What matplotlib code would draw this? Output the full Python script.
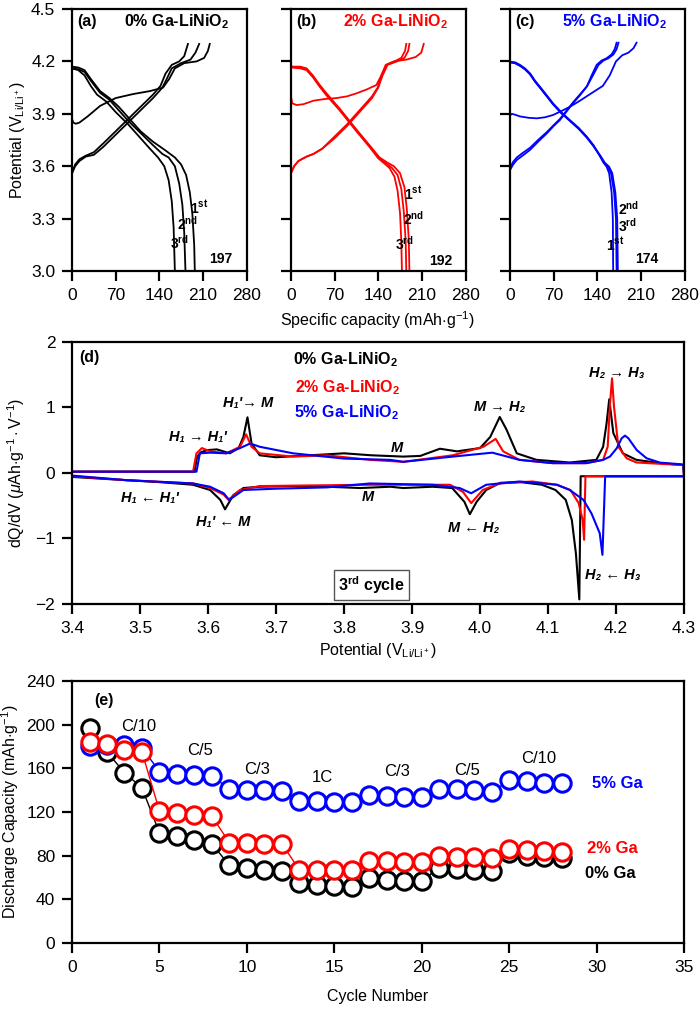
import matplotlib
matplotlib.use('Agg')
import matplotlib.pyplot as plt

plt.rcParams['font.family'] = ['Liberation Sans', 'DejaVu Sans']
plt.rcParams['mathtext.fontset'] = 'custom'
plt.rcParams['mathtext.rm'] = 'Liberation Sans'
plt.rcParams['mathtext.it'] = 'Liberation Sans:italic'
plt.rcParams['mathtext.bf'] = 'Liberation Sans:bold'

# ---- (a) 0% Ga: charge / discharge curves (capacity, potential)
a_chg1_cap = [0, 2, 6, 12, 25, 45, 70, 98, 125, 146, 156, 165, 180, 200, 212, 218, 221]
a_chg1_v = [3.87, 3.85, 3.843, 3.85, 3.885, 3.945, 3.99, 4.013, 4.03, 4.05, 4.10, 4.16, 4.19, 4.20, 4.22, 4.26, 4.30]
a_chg2_cap = [0, 5, 12, 22, 35, 50, 70, 90, 110, 130, 145, 152, 160, 175, 190, 198, 204]
a_chg2_v = [3.56, 3.60, 3.63, 3.655, 3.665, 3.71, 3.78, 3.85, 3.92, 3.99, 4.05, 4.10, 4.16, 4.19, 4.21, 4.25, 4.30]
a_chg3_cap = [0, 5, 12, 22, 35, 50, 70, 90, 110, 130, 142, 150, 160, 172, 180, 186]
a_chg3_v = [3.56, 3.61, 3.64, 3.66, 3.68, 3.73, 3.80, 3.87, 3.94, 4.01, 4.06, 4.13, 4.18, 4.20, 4.23, 4.30]
a_dis1_cap = [0, 10, 20, 30, 45, 60, 75, 90, 110, 130, 150, 165, 175, 183, 189, 193, 196, 197]
a_dis1_v = [4.17, 4.165, 4.15, 4.10, 4.03, 3.99, 3.94, 3.88, 3.80, 3.74, 3.69, 3.65, 3.61, 3.55, 3.45, 3.33, 3.15, 3.0]
a_dis2_cap = [0, 10, 20, 30, 45, 60, 75, 90, 110, 130, 145, 155, 165, 172, 177, 180, 182]
a_dis2_v = [4.16, 4.155, 4.14, 4.09, 4.02, 3.98, 3.92, 3.86, 3.79, 3.72, 3.67, 3.65, 3.60, 3.50, 3.38, 3.22, 3.0]
a_dis3_cap = [0, 10, 20, 30, 40, 55, 70, 90, 110, 125, 138, 148, 155, 160, 163, 165]
a_dis3_v = [4.16, 4.15, 4.12, 4.06, 4.01, 3.97, 3.91, 3.84, 3.76, 3.70, 3.65, 3.60, 3.52, 3.40, 3.25, 3.0]

# ---- (b) 2% Ga
b_chg1_cap = [0, 2, 9, 20, 36, 55, 73, 90, 105, 122, 137, 145, 153, 165, 185, 200, 209, 213]
b_chg1_v = [4.00, 3.96, 3.95, 3.955, 3.975, 3.985, 3.99, 4.00, 4.017, 4.04, 4.065, 4.12, 4.18, 4.20, 4.21, 4.225, 4.25, 4.30]
b_chg2_cap = [0, 5, 12, 25, 36, 50, 70, 90, 110, 130, 140, 147, 155, 170, 182, 188, 190]
b_chg2_v = [3.56, 3.60, 3.63, 3.655, 3.67, 3.70, 3.76, 3.83, 3.91, 3.99, 4.05, 4.12, 4.18, 4.20, 4.22, 4.26, 4.30]
b_chg3_cap = [0, 5, 12, 25, 36, 50, 70, 90, 110, 130, 139, 145, 152, 166, 177, 183, 185]
b_chg3_v = [3.56, 3.60, 3.63, 3.655, 3.67, 3.70, 3.77, 3.84, 3.92, 4.00, 4.05, 4.12, 4.18, 4.20, 4.22, 4.26, 4.30]
b_dis1_cap = [0, 15, 25, 35, 45, 57, 78, 105, 126, 142, 155, 165, 175, 182, 186, 189, 190]
b_dis1_v = [4.17, 4.17, 4.16, 4.12, 4.07, 4.017, 3.93, 3.81, 3.72, 3.65, 3.62, 3.60, 3.56, 3.48, 3.35, 3.18, 3.0]
b_dis2_cap = [0, 15, 25, 35, 45, 57, 78, 105, 126, 142, 153, 162, 171, 177, 181, 184, 185]
b_dis2_v = [4.17, 4.165, 4.155, 4.115, 4.065, 4.01, 3.925, 3.805, 3.715, 3.645, 3.615, 3.59, 3.55, 3.47, 3.34, 3.17, 3.0]
b_dis3_cap = [0, 15, 25, 35, 45, 57, 78, 105, 126, 140, 150, 158, 166, 171, 175, 177, 178]
b_dis3_v = [4.165, 4.16, 4.15, 4.11, 4.06, 4.005, 3.92, 3.80, 3.71, 3.645, 3.615, 3.59, 3.54, 3.46, 3.33, 3.17, 3.0]

# ---- (c) 5% Ga
c_chg1_cap = [0, 3, 8, 16, 30, 43, 56, 69, 82, 96, 110, 123, 136, 149, 160, 170, 180, 190, 198, 203]
c_chg1_v = [3.89, 3.90, 3.895, 3.885, 3.877, 3.874, 3.88, 3.893, 3.915, 3.94, 3.97, 4.00, 4.03, 4.06, 4.12, 4.20, 4.235, 4.25, 4.275, 4.307]
c_chg2_cap = [0, 5, 11, 20, 32, 45, 59, 70, 80, 90, 101, 112, 123, 131, 139, 147, 155, 163, 168, 171]
c_chg2_v = [3.578, 3.61, 3.636, 3.66, 3.693, 3.74, 3.788, 3.83, 3.864, 3.91, 3.96, 4.005, 4.055, 4.12, 4.18, 4.205, 4.218, 4.24, 4.27, 4.307]
c_chg3_cap = [0, 5, 11, 20, 32, 45, 59, 70, 80, 90, 101, 112, 124, 133, 142, 150, 158, 166, 171, 174]
c_chg3_v = [3.59, 3.625, 3.65, 3.675, 3.705, 3.75, 3.795, 3.835, 3.87, 3.915, 3.965, 4.01, 4.06, 4.12, 4.18, 4.205, 4.218, 4.24, 4.27, 4.307]
c_dis1_cap = [0, 8, 16, 24, 32, 40, 48, 58, 69, 82, 96, 110, 123, 134, 144, 150, 155, 159, 163, 165, 165.5]
c_dis1_v = [4.198, 4.195, 4.18, 4.16, 4.132, 4.09, 4.055, 4.01, 3.96, 3.91, 3.864, 3.82, 3.77, 3.72, 3.66, 3.62, 3.597, 3.56, 3.45, 3.30, 3.0]
c_dis2_cap = [0, 8, 16, 24, 32, 40, 48, 58, 69, 82, 96, 110, 123, 134, 144, 151, 157, 162, 167, 170, 171]
c_dis2_v = [4.195, 4.19, 4.175, 4.155, 4.127, 4.085, 4.05, 4.005, 3.955, 3.905, 3.86, 3.815, 3.765, 3.715, 3.66, 3.62, 3.597, 3.56, 3.45, 3.30, 3.0]
c_dis3_cap = [0, 8, 16, 24, 32, 40, 48, 58, 69, 82, 96, 110, 123, 134, 145, 152, 159, 164, 169, 172, 173]
c_dis3_v = [4.195, 4.19, 4.175, 4.155, 4.127, 4.085, 4.05, 4.005, 3.955, 3.905, 3.86, 3.815, 3.765, 3.715, 3.66, 3.62, 3.597, 3.56, 3.45, 3.30, 3.0]

# ---- (d) dQ/dV, 3rd cycle (charge left->right, then discharge right->left)
d_black_v = [3.40, 3.50, 3.580, 3.584, 3.590, 3.600, 3.613, 3.632, 3.645, 3.652, 3.658, 3.664, 3.676, 3.70, 3.75,
             3.80, 3.84, 3.887, 3.912, 3.941, 3.966, 4.00, 4.015, 4.029, 4.039, 4.054, 4.083, 4.132, 4.171, 4.181,
             4.186, 4.190, 4.196, 4.21, 4.23, 4.265, 4.299,
             4.30, 4.148, 4.146, 4.141, 4.135, 4.126, 4.111, 4.091, 4.060, 4.030, 4.009, 3.995, 3.985, 3.977, 3.959,
             3.93, 3.887, 3.868, 3.824, 3.775, 3.725, 3.676, 3.652, 3.637, 3.625, 3.618, 3.603, 3.578, 3.529, 3.48,
             3.431, 3.40]
d_black_y = [0.02, 0.02, 0.02, 0.25, 0.32, 0.35, 0.36, 0.30, 0.38, 0.55, 0.85, 0.45, 0.27, 0.24, 0.27,
             0.30, 0.27, 0.25, 0.26, 0.37, 0.33, 0.38, 0.55, 0.855, 0.66, 0.30, 0.20, 0.16, 0.20, 0.40,
             0.75, 1.125, 0.61, 0.30, 0.20, 0.15, 0.12,
             -0.05, -0.05, -1.93, -1.23, -0.72, -0.41, -0.26, -0.18, -0.14, -0.15, -0.26, -0.44, -0.63, -0.44, -0.23,
             -0.21, -0.23, -0.21, -0.23, -0.21, -0.20, -0.21, -0.23, -0.34, -0.555, -0.41, -0.26, -0.18, -0.14, -0.11,
             -0.08, -0.06]
d_red_v = [3.40, 3.50, 3.578, 3.583, 3.591, 3.603, 3.627, 3.647, 3.656, 3.664, 3.676, 3.725, 3.774, 3.838, 3.887,
           3.96, 4.005, 4.023, 4.034, 4.058, 4.107, 4.156, 4.181, 4.1877, 4.1912, 4.1941, 4.197, 4.2034, 4.2157,
           4.23, 4.265, 4.299,
           4.30, 4.155, 4.153, 4.151, 4.145, 4.133, 4.113, 4.077, 4.028, 4.004, 3.987, 3.975, 3.956, 3.90, 3.838,
           3.75, 3.676, 3.647, 3.630, 3.623, 3.603, 3.578, 3.48, 3.40]
d_red_y = [0.02, 0.02, 0.02, 0.30, 0.38, 0.33, 0.30, 0.40, 0.59, 0.40, 0.30, 0.25, 0.27, 0.20, 0.17,
           0.27, 0.40, 0.52, 0.33, 0.20, 0.15, 0.15, 0.20, 0.40, 1.064, 1.445, 1.013, 0.40, 0.224,
           0.16, 0.14, 0.12,
           -0.05, -0.05, -1.02, -0.72, -0.46, -0.26, -0.18, -0.13, -0.16, -0.26, -0.46, -0.29, -0.18, -0.18, -0.18,
           -0.19, -0.20, -0.26, -0.41, -0.33, -0.23, -0.16, -0.11, -0.05]
d_blue_v = [3.40, 3.50, 3.583, 3.588, 3.603, 3.627, 3.647, 3.662, 3.676, 3.725, 3.80, 3.868, 3.887, 3.96, 4.018,
            4.058, 4.107, 4.156, 4.181, 4.191, 4.201, 4.2083, 4.2132, 4.2181, 4.2304, 4.245, 4.2647, 4.299,
            4.30, 4.184, 4.180, 4.176, 4.164, 4.152, 4.132, 4.113, 4.058, 4.009, 3.987, 3.970, 3.93, 3.838, 3.775,
            3.70, 3.652, 3.641, 3.631, 3.623, 3.603, 3.578, 3.48, 3.40]
d_blue_y = [0.02, 0.02, 0.02, 0.30, 0.31, 0.30, 0.38, 0.45, 0.40, 0.30, 0.22, 0.20, 0.17, 0.25, 0.31,
            0.20, 0.15, 0.15, 0.20, 0.25, 0.377, 0.53, 0.57, 0.53, 0.35, 0.224, 0.158, 0.13,
            -0.05, -0.05, -1.25, -0.92, -0.62, -0.41, -0.26, -0.18, -0.13, -0.18, -0.31, -0.23, -0.18, -0.16, -0.22,
            -0.24, -0.26, -0.34, -0.41, -0.31, -0.21, -0.16, -0.11, -0.04]

# ---- (e) rate capability
cycles = list(range(1, 29))
cap_0ga = [197, 175, 156, 142, 101, 98, 94, 91, 71, 69, 67, 66, 55, 53, 52, 51,
           60, 58, 57, 57, 69, 68, 67, 66, 82, 80, 79, 78]
cap_2ga = [184, 182, 177, 175, 121, 119, 117, 116, 92, 92, 91, 91, 67, 67, 67, 67,
           75, 75, 74, 74, 80, 79, 79, 78, 86, 85, 84, 83]
cap_5ga = [180, 181, 181, 179, 157, 155, 154, 153, 141, 140, 140, 139, 130, 130, 129, 129,
           136, 135, 134, 134, 141, 141, 140, 138, 149, 148, 147, 147]
rate_labels = ['C/10', 'C/5', 'C/3', '1C', 'C/3', 'C/5', 'C/10']
rate_x = [3.8, 7.3, 10.6, 14.3, 18.6, 22.6, 26.7]
rate_y = [198, 176, 159, 152, 157, 158, 169]

BLACK, RED, BLUE = '#000000', '#ff0000', '#0000ff'
TICK_FS = 12.5
LAB_FS = 11.5


def style_axes(ax):
    for s in ax.spines.values():
        s.set_linewidth(1.6)
    ax.tick_params(direction='out', length=7, width=1.6, pad=5, labelsize=TICK_FS, top=False, right=False)


fig = plt.figure(figsize=(7.0, 10.09), dpi=100)

# ---------- panels a-c
ST = '1$^{\\mathbf{st}}$'
ND = '2$^{\\mathbf{nd}}$'
RD = '3$^{\\mathbf{rd}}$'
panels = [
    (0.1029, BLACK, '(a)', '0% Ga-LiNiO$_\\mathbf{2}$',
     [(a_chg1_cap, a_chg1_v), (a_chg2_cap, a_chg2_v), (a_chg3_cap, a_chg3_v),
      (a_dis1_cap, a_dis1_v), (a_dis2_cap, a_dis2_v), (a_dis3_cap, a_dis3_v)],
     [(ST, 190, 3.33), (ND, 168, 3.235), (RD, 157, 3.125)], ('197', 258, 3.046)),
    (0.4157, RED, '(b)', '2% Ga-LiNiO$_\\mathbf{2}$',
     [(b_chg1_cap, b_chg1_v), (b_chg2_cap, b_chg2_v), (b_chg3_cap, b_chg3_v),
      (b_dis1_cap, b_dis1_v), (b_dis2_cap, b_dis2_v), (b_dis3_cap, b_dis3_v)],
     [(ST, 182, 3.407), (ND, 179, 3.263), (RD, 167, 3.12)], ('192', 259, 3.035)),
    (0.7286, BLUE, '(c)', '5% Ga-LiNiO$_\\mathbf{2}$',
     [(c_chg1_cap, c_chg1_v), (c_chg2_cap, c_chg2_v), (c_chg3_cap, c_chg3_v),
      (c_dis1_cap, c_dis1_v), (c_dis2_cap, c_dis2_v), (c_dis3_cap, c_dis3_v)],
     [(ND, 174, 3.32), (RD, 174, 3.225), (ST, 154, 3.115)], ('174', 238, 3.046)),
]
for i, (left, col, tag, name, curves, cyc_labels, cap_txt) in enumerate(panels):
    ax = fig.add_axes([left, 0.7314, 0.2493, 0.2597])
    for xs, ys in curves:
        ax.plot(xs, ys, color=col, lw=1.3)
    ax.set_xlim(0, 280)
    ax.set_ylim(3.0, 4.5)
    ax.set_xticks([0, 70, 140, 210, 280])
    ax.set_yticks([3.0, 3.3, 3.6, 3.9, 4.2, 4.5])
    style_axes(ax)
    if i == 0:
        ax.set_yticklabels(['3.0', '3.3', '3.6', '3.9', '4.2', '4.5'])
        ax.set_ylabel('Potential (V$_{\\mathrm{Li/Li^+}}$)', fontsize=LAB_FS, labelpad=3)
    else:
        ax.set_yticklabels([])
    ax.text(8, 4.43, tag, fontsize=11.5, fontweight='bold', va='center')
    ax.text(168, 4.43, name, fontsize=11.5, fontweight='bold', color=col, ha='center', va='center')
    for txt, x, y in cyc_labels:
        ax.text(x, y, txt, fontsize=10, fontweight='bold', ha='left', va='baseline')
    ax.text(cap_txt[1], cap_txt[2], cap_txt[0], fontsize=10, fontweight='bold', ha='right', va='baseline')

fig.text(0.539, 0.683, 'Specific capacity (mAh$\\cdot$g$^{-1}$)', fontsize=LAB_FS, ha='center', va='center')

# ---------- panel d
axd = fig.add_axes([0.1029, 0.4014, 0.8743, 0.2597])
axd.plot(d_black_v, d_black_y, color=BLACK, lw=1.5)
axd.plot(d_red_v, d_red_y, color=RED, lw=1.5)
axd.plot(d_blue_v, d_blue_y, color=BLUE, lw=1.5)
axd.set_xlim(3.4, 4.3)
axd.set_ylim(-2, 2)
axd.set_xticks([3.4 + 0.1 * k for k in range(10)])
axd.set_xticklabels(['%.1f' % (3.4 + 0.1 * k) for k in range(10)])
axd.set_yticks([-2, -1, 0, 1, 2])
style_axes(axd)
axd.set_xlabel('Potential (V$_{\\mathrm{Li/Li^+}}$)', fontsize=LAB_FS, labelpad=4)
axd.set_ylabel('dQ/dV ($\\mu$Ah$\\cdot$g$^{-1}\\cdot$V$^{-1}$)', fontsize=LAB_FS, labelpad=6)
axd.text(3.411, 1.77, '(d)', fontsize=11.5, fontweight='bold', va='center')
axd.text(3.725, 1.73, '0% Ga-LiNiO$_\\mathbf{2}$', fontsize=11.5, fontweight='bold', color=BLACK, va='center')
axd.text(3.728, 1.31, '2% Ga-LiNiO$_\\mathbf{2}$', fontsize=11.5, fontweight='bold', color=RED, va='center')
axd.text(3.727, 0.92, '5% Ga-LiNiO$_\\mathbf{2}$', fontsize=11.5, fontweight='bold', color=BLUE, va='center')
phase_labels = [('H\u2081\'\u2192 M', 3.659, 1.07), ('H\u2081 \u2192 H\u2081\'', 3.585, 0.55),
                ('H\u2081 \u2190 H\u2081\'', 3.515, -0.38), ('H\u2081\' \u2190 M', 3.622, -0.75),
                ('M', 3.835, -0.37), ('M', 3.878, 0.38), ('M \u2192 H\u2082', 4.029, 1.0),
                ('H\u2082 \u2192 H\u2083', 4.201, 1.53), ('M \u2190 H\u2082', 3.99, -0.84),
                ('H\u2082 \u2190 H\u2083', 4.195, -1.56)]
for txt, x, y in phase_labels:
    axd.text(x, y, txt, fontsize=10.5, fontweight='bold', style='italic', ha='center', va='center')
axd.text(3.84, -1.71, '3$^{\\mathbf{rd}}$ cycle', fontsize=11.5, fontweight='bold', ha='center', va='center',
         bbox=dict(boxstyle='square,pad=0.25', fc='white', ec='#555555', lw=1))

# ---------- panel e
axe = fig.add_axes([0.1029, 0.0654, 0.8743, 0.2597])
axe.plot(cycles, cap_0ga, 'o-', color=BLACK, mfc='white', mec=BLACK, ms=12.5, mew=2.2, lw=1, zorder=3)
axe.plot(cycles, cap_5ga, 'o-', color=BLUE, mfc='white', mec=BLUE, ms=12.5, mew=2.2, lw=1, zorder=4)
axe.plot(cycles, cap_2ga, 'o-', color=RED, mfc='white', mec=RED, ms=12.5, mew=2.2, lw=1, zorder=5)
axe.set_xlim(0, 35)
axe.set_ylim(0, 240)
axe.set_xticks(range(0, 36, 5))
axe.set_yticks(range(0, 241, 40))
style_axes(axe)
axe.set_xlabel('Cycle Number', fontsize=LAB_FS, labelpad=10)
axe.set_ylabel('Discharge Capacity (mAh$\\cdot$g$^{-1}$)', fontsize=LAB_FS, labelpad=4)
axe.text(1.8, 222, '(e)', fontsize=11.5, fontweight='bold', ha='center', va='center')
for txt, x, y in zip(rate_labels, rate_x, rate_y):
    axe.text(x, y, txt, fontsize=12, ha='center', va='center')
axe.text(31.2, 146, '5% Ga', fontsize=12, fontweight='bold', color=BLUE, ha='center', va='center')
axe.text(30.9, 87, '2% Ga', fontsize=12, fontweight='bold', color=RED, ha='center', va='center')
axe.text(30.8, 64, '0% Ga', fontsize=12, fontweight='bold', color=BLACK, ha='center', va='center')

fig.savefig('out.png', dpi=100)
